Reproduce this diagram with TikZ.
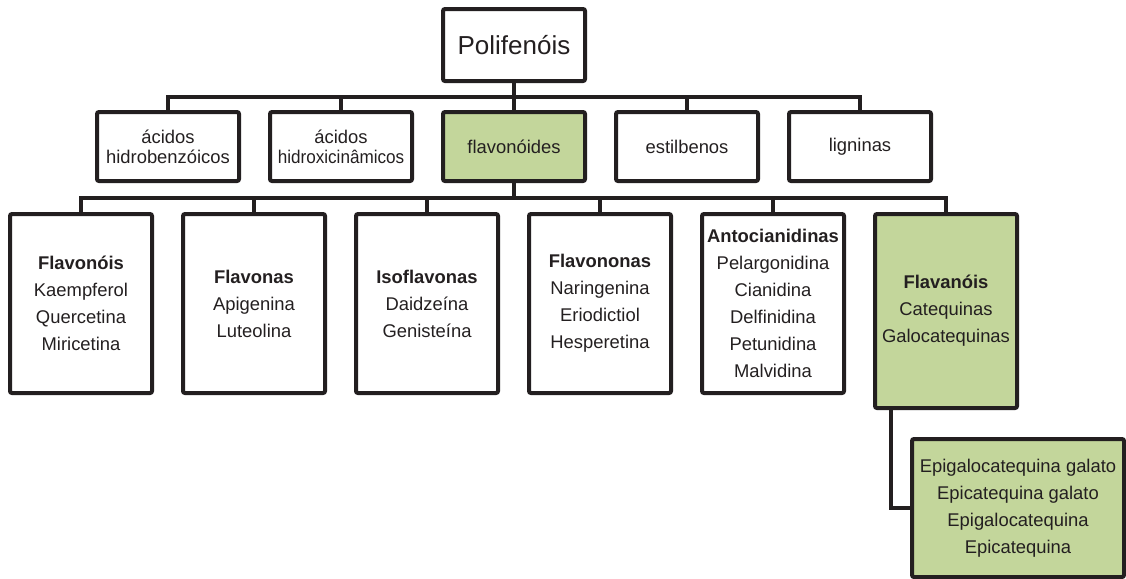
\documentclass[tikz,border=0pt]{standalone}
\usepackage{fontspec}
\setmainfont{Liberation Sans}
\usetikzlibrary{positioning}
\definecolor{verde}{RGB}{195,214,155}
\definecolor{contorno}{RGB}{35,31,32}

\begin{document}
\begin{tikzpicture}[x=0.5pt, y=-0.5pt, node distance=13.5pt,
    caixa/.style={draw=contorno, line width=2pt, rounded corners=1pt, text=contorno, align=center, inner sep=0pt},
    topo/.style={caixa, minimum width=71pt, minimum height=36pt, font=\fontsize{13}{15}\selectfont},
    classe/.style={caixa, minimum width=71pt, minimum height=34.5pt, font=\fontsize{9.2}{10}\selectfont},
    sub/.style={caixa, minimum width=71pt, minimum height=89.5pt, font=\fontsize{9.2}{13.5}\selectfont},
    liga/.style={draw=contorno, line width=2pt}]
    \useasboundingbox (0,0) rectangle (1126,579);

    % Nodes
    \node[topo] (poli) at (514,45) {Polifenóis};

    \node[classe, fill=verde, below=of poli] (flavo) {flavonóides};
    \node[classe, left=of flavo] (hidroxi) {ácidos\\\scalebox{0.93}[1]{hidroxicinâmicos}};
    \node[classe, left=of hidroxi] (hidrob) {ácidos\\hidrobenzóicos};
    \node[classe, right=of flavo] (estil) {estilbenos};
    \node[classe, right=of estil] (lign) {ligninas};

    \node[sub, anchor=north] (flavonois) at (81,212) {\textbf{Flavonóis}\\Kaempferol\\Quercetina\\Miricetina};
    \node[sub, right=of flavonois] (flavonas) {\textbf{Flavonas}\\Apigenina\\Luteolina};
    \node[sub, right=of flavonas] (isof) {\textbf{Isoflavonas}\\Daidzeína\\Genisteína};
    \node[sub, right=of isof] (flavononas) {\textbf{Flavononas}\\Naringenina\\Eriodictiol\\Hesperetina};
    \node[sub, right=of flavononas] (antoc) {\textbf{Antocianidinas}\\Pelargonidina\\Cianidina\\Delfinidina\\Petunidina\\Malvidina};
    \node[sub, fill=verde, minimum height=97pt, anchor=north west] (flavanois) at ([xshift=13.5pt]antoc.north east) {\textbf{Flavanóis}\\Catequinas\\Galocatequinas};

    \node[caixa, fill=verde, minimum width=106pt, minimum height=69pt, font=\fontsize{9.2}{13.5}\selectfont, anchor=north west] (epi) at (910,437) {Epigalocatequina galato\\Epicatequina galato\\Epigalocatequina\\Epicatequina};

    % Connections
    \coordinate (bus1) at (514,97);
    \coordinate (bus2) at (514,198);
    \draw[liga] (poli) -- (bus1);
    \foreach \n in {hidrob, hidroxi, flavo, estil, lign}
        \draw[liga] (\n.north) |- (bus1);
    \draw[liga] (flavo) -- (bus2);
    \foreach \n in {flavonois, flavonas, isof, flavononas, antoc, flavanois}
        \draw[liga] (\n.north) |- (bus2);
    \draw[liga] ([xshift=9pt]flavanois.south west) |- (epi.west);
\end{tikzpicture}
\end{document}
